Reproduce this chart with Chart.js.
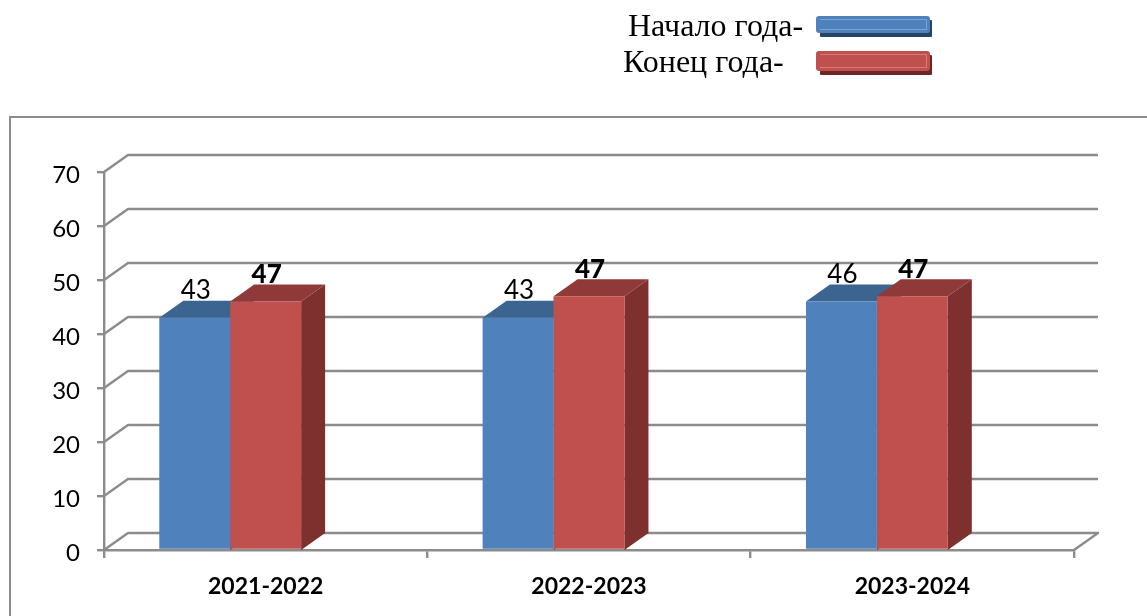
<!DOCTYPE html>
<html><head><meta charset="utf-8">
<script src="https://cdn.jsdelivr.net/npm/chart.js@4"></script>
<style>html,body{margin:0;padding:0;background:#fff}canvas{display:block}</style>
</head><body>
<canvas id="c" width="1147" height="616"></canvas>
<script>
const categories = ['2021-2022','2022-2023','2023-2024'];
const seriesNames = ['Начало года-','Конец года-'];
const startValues = [43,43,46];
const endValues = [46,47,47];
const startLabels = ['43','43','46'];
const endLabels = ['47','47','47'];
const yTicks = [0,10,20,30,40,50,60,70];
const GRID = '#8c8c8c';
const FONT = 'Lato, Carlito, sans-serif';
const DX = 24, DY = 17;
const faces = [
  {front:'#4f81bd', top:'#3c6490', side:'#2f4f74', shadow:'#264468', hi:'rgba(190,212,240,0.4)'},
  {front:'#c0504d', top:'#8f3a38', side:'#7d302e', shadow:'#6e2524', hi:'rgba(240,190,188,0.4)'}
];
function poly(ctx, pts, fill){
  ctx.fillStyle = fill; ctx.beginPath();
  pts.forEach((p,i)=> i ? ctx.lineTo(p[0],p[1]) : ctx.moveTo(p[0],p[1]));
  ctx.closePath(); ctx.fill();
}
const wall3d = {
  id:'wall3d',
  beforeDatasetsDraw(chart){
    const {ctx, scales:{y}, chartArea:a} = chart;
    ctx.save();
    ctx.strokeStyle = GRID; ctx.lineWidth = 2.4; ctx.lineJoin='round';
    yTicks.forEach(t=>{
      const py = y.getPixelForValue(t);
      ctx.beginPath();
      ctx.moveTo(a.left,py); ctx.lineTo(a.left+DX,py-DY); ctx.lineTo(a.right+DX,py-DY);
      if(t===0){ ctx.lineTo(a.right,py); }
      ctx.stroke();
    });
    [0,1].forEach(d=>{
      chart.getDatasetMeta(d).data.forEach(b=>{
        const l=b.x-b.width/2, r=b.x+b.width/2, t=b.y, base=y.getPixelForValue(0);
        poly(ctx,[[r,t],[r+DX,t-DY],[r+DX,base-DY],[r,base]],faces[d].side);
        poly(ctx,[[l,t],[l+DX,t-DY],[r+DX,t-DY],[r,t]],faces[d].top);
      });
    });
    ctx.restore();
  },
  afterDatasetsDraw(chart){
    const {ctx} = chart;
    ctx.save();
    ctx.fillStyle='#000'; ctx.textAlign='center'; ctx.textBaseline='middle';
    [[0,startLabels,'400'],[1,endLabels,'900']].forEach(([d,labs,w])=>{
      chart.getDatasetMeta(d).data.forEach((b,i)=>{
        ctx.font = w+' 26px '+FONT;
        ctx.fillText(labs[i], b.x+1, b.y-27);
      });
    });
    ctx.restore();
  },
  afterDraw(chart){
    const {ctx} = chart;
    ctx.save();
    ctx.strokeStyle='#8c8c8c'; ctx.lineWidth=2;
    ctx.beginPath(); ctx.moveTo(10,616); ctx.lineTo(10,117); ctx.lineTo(1147,117); ctx.stroke();
    ctx.fillStyle='#000'; ctx.textAlign='left'; ctx.textBaseline='alphabetic';
    ctx.font='32px "Liberation Serif", serif';
    ctx.fillText(seriesNames[0],628,36);
    ctx.fillText(seriesNames[1],623,72);
    [[16,17],[51,20]].forEach(([y0,h],i)=>{
      const f=faces[i];
      ctx.fillStyle=f.shadow;
      ctx.beginPath(); ctx.roundRect(820,y0+4,112,h,1); ctx.fill();
      ctx.fillStyle=f.front;
      ctx.beginPath(); ctx.roundRect(816,y0,114,h,3); ctx.fill();
      ctx.fillStyle=f.hi; ctx.fillRect(820,y0+3,106,1);
      ctx.fillRect(820,y0+h-4,106,1); ctx.fillRect(926,y0+3,1,h-6);
    });
    ctx.restore();
  }
};
new Chart(document.getElementById('c'),{
  type:'bar',
  data:{labels:categories,datasets:[
    {label:seriesNames[0],data:startValues,backgroundColor:faces[0].front,borderWidth:0},
    {label:seriesNames[1],data:endValues,backgroundColor:faces[1].front,borderWidth:0},
    {label:'',data:[null,null,null],backgroundColor:'rgba(0,0,0,0)',borderWidth:0}
  ]},
  plugins:[wall3d],
  options:{
    responsive:false,animation:false,
    layout:{padding:{top:172,right:73,left:0,bottom:0}},
    plugins:{legend:{display:false},tooltip:{enabled:false},title:{display:false}},
    datasets:{bar:{categoryPercentage:0.658,barPercentage:1}},
    scales:{
      x:{
        afterFit(s){s.height=66;},
        grid:{drawOnChartArea:false,color:GRID,lineWidth:2.4,tickLength:8,offset:true},
        border:{color:GRID,width:2.4},
        ticks:{color:'#000',font:{family:FONT,size:23,weight:'700'},padding:15,maxRotation:0}
      },
      y:{
        min:0,max:70,
        afterFit(s){
          s.width=104;
          if(!s._nudged){
            s._nudged=true;
            const orig=s._computeLabelItems;
            s._computeLabelItems=function(a){
              const items=orig.call(this,a);
              items.forEach(it=>{it.options.translation[1]+=3;});
              return items;
            };
          }
        },
        grid:{drawOnChartArea:false,color:GRID,lineWidth:2.4,tickLength:7},
        border:{color:GRID,width:2.4},
        ticks:{color:'#000',font:{family:FONT,size:24},padding:17,stepSize:10}
      }
    }
  }
});
</script>
</body></html>
